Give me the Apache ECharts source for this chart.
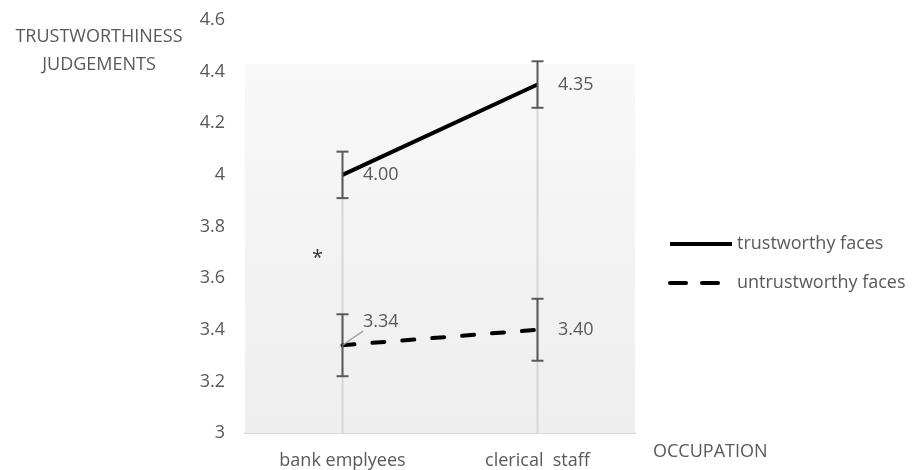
<!DOCTYPE html>
<html>
<head>
<meta charset="utf-8">
<style>
  html, body { margin: 0; padding: 0; background: #fff; }
  #main { width: 913px; height: 470px; }
</style>
<script src="https://cdn.jsdelivr.net/npm/echarts@6/dist/echarts.min.js"></script>
</head>
<body>
<div id="main"></div>
<script>
var categories = ["bank emplyees", "clerical  staff"];
var trustworthy = [4.0, 4.35];
var untrustworthy = [3.34, 3.4];
var trustErr = [0.09, 0.09];
var untrustErr = [0.12, 0.12];

var textColor = "#595959";
var fontFamily = "Open Sans";

// error bar rows: [category index, low, high]
var errRows = [];
trustworthy.forEach(function (v, i) {
  errRows.push([i, v - trustErr[i], v + trustErr[i]]);
});
untrustworthy.forEach(function (v, i) {
  errRows.push([i, v - untrustErr[i], v + untrustErr[i]]);
});

// drop lines from highest point down to the axis
var dropRows = categories.map(function (c, i) {
  return [i, Math.max(trustworthy[i], untrustworthy[i]), 3];
});

function renderErr(params, api) {
  var lo = api.coord([api.value(0), api.value(1)]);
  var hi = api.coord([api.value(0), api.value(2)]);
  var w = 6;
  var style = { stroke: "#595959", lineWidth: 2 };
  return {
    type: "group",
    children: [
      { type: "line", shape: { x1: lo[0], y1: lo[1], x2: hi[0], y2: hi[1] }, style: style },
      { type: "line", shape: { x1: lo[0] - w, y1: lo[1], x2: lo[0] + w, y2: lo[1] }, style: style },
      { type: "line", shape: { x1: hi[0] - w, y1: hi[1], x2: hi[0] + w, y2: hi[1] }, style: style }
    ]
  };
}

function renderDrop(params, api) {
  var top = api.coord([api.value(0), api.value(1)]);
  var bot = api.coord([api.value(0), api.value(2)]);
  return {
    type: "line",
    shape: { x1: top[0], y1: top[1], x2: bot[0], y2: bot[1] },
    style: { stroke: "#d6d6d6", lineWidth: 2 }
  };
}

var valueLabel = {
  show: true,
  position: "right",
  distance: 20,
  color: textColor,
  fontSize: 18,
  fontFamily: fontFamily,
  formatter: function (p) { return p.value.toFixed(2); }
};

var chart = echarts.init(document.getElementById("main"));

var option = {
  animation: false,
  textStyle: { fontFamily: fontFamily },
  title: {
    text: "TRUSTWORTHINESS\nJUDGEMENTS",
    left: 99,
    top: 23,
    padding: 0,
    textAlign: "center",
    textStyle: {
      color: textColor,
      fontSize: 18,
      fontWeight: "normal",
      fontFamily: fontFamily,
      lineHeight: 28
    }
  },
  grid: { left: 245, right: 278, top: 20, bottom: 37, outerBoundsMode: "none" },
  legend: {
    orient: "vertical",
    left: 668,
    top: 235,
    padding: 0,
    itemWidth: 62,
    itemHeight: 14,
    itemGap: 21,
    itemStyle: { opacity: 0 },
    lineStyle: { width: 4 },
    data: [
      { name: "trustworthy faces" },
      { name: "untrustworthy faces", lineStyle: { width: 4, type: [16, 16], cap: "round" } }
    ],
    textStyle: { color: textColor, fontSize: 18, fontFamily: fontFamily }
  },
  xAxis: {
    type: "category",
    data: categories,
    boundaryGap: true,
    name: "OCCUPATION",
    nameLocation: "end",
    nameGap: 18,
    nameTextStyle: {
      color: textColor,
      fontSize: 18,
      fontFamily: fontFamily,
      verticalAlign: "top",
      padding: [10, 0, 0, 0]
    },
    axisLine: { show: true, lineStyle: { color: "#d9d9d9", width: 2 } },
    axisTick: { show: false },
    axisLabel: { color: textColor, fontSize: 18, margin: 19 },
    splitLine: { show: false }
  },
  yAxis: {
    type: "value",
    min: 3,
    max: 4.6,
    interval: 0.2,
    axisLine: { show: false },
    axisTick: { show: false },
    splitLine: { show: false },
    axisLabel: { color: textColor, fontSize: 18, margin: 20 }
  },
  series: [
    {
      name: "background",
      type: "line",
      data: [],
      silent: true,
      markArea: {
        silent: true,
        itemStyle: {
          color: {
            type: "linear", x: 0, y: 0, x2: 0, y2: 1,
            colorStops: [
              { offset: 0, color: "#f8f8f8" },
              { offset: 1, color: "#eeeeee" }
            ]
          }
        },
        data: [[{ yAxis: 3 }, { yAxis: 4.43 }]]
      }
    },
    {
      name: "drop",
      type: "custom",
      renderItem: renderDrop,
      data: dropRows,
      encode: { x: 0, y: [1, 2] },
      silent: true,
      z: 1
    },
    {
      name: "trustworthy faces",
      type: "line",
      data: trustworthy,
      symbol: "circle",
      symbolSize: 1,
      showSymbol: true,
      lineStyle: { color: "#000", width: 4 },
      itemStyle: { color: "#000" },
      z: 3,
      label: valueLabel,
      markPoint: {
        symbol: "circle",
        symbolSize: 0,
        label: { show: true, formatter: "*", color: "#333", fontSize: 20, offset: [-25, 1] },
        data: [{ coord: [0, 3.68] }]
      }
    },
    {
      name: "untrustworthy faces",
      type: "line",
      data: untrustworthy.map(function (v, i) {
        return i === 0
          ? { value: v, label: { offset: [0, -23] }, labelLine: { show: true } }
          : v;
      }),
      symbol: "circle",
      symbolSize: 1,
      showSymbol: true,
      lineStyle: { color: "#000", width: 4, type: [12, 18], cap: "round" },
      itemStyle: { color: "#000" },
      z: 3,
      labelLine: { show: false, lineStyle: { color: "#a6a6a6", width: 1.5 } },
      label: valueLabel
    },
    {
      name: "errors",
      type: "custom",
      renderItem: renderErr,
      data: errRows,
      encode: { x: 0, y: [1, 2] },
      silent: true,
      z: 4
    }
  ]
};

chart.setOption(option);
window.addEventListener("resize", function () { chart.resize(); });
</script>
</body>
</html>
